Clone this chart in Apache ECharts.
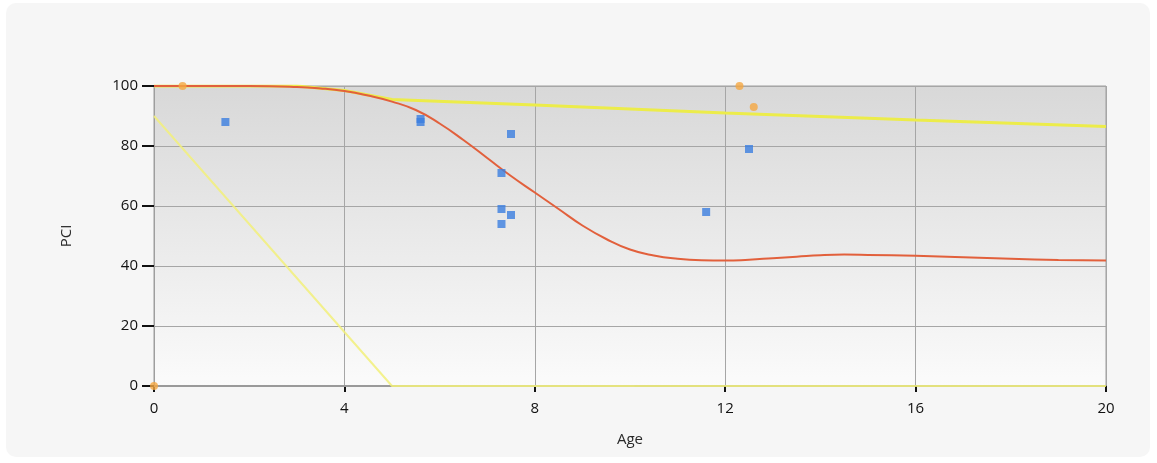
<!DOCTYPE html>
<html>
<head>
<meta charset="utf-8">
<script src="https://cdn.jsdelivr.net/npm/echarts@6/dist/echarts.min.js"></script>
<style>
  html, body { margin: 0; padding: 0; background: #ffffff; }
  #chart { width: 1157px; height: 463px; }
</style>
</head>
<body>
<div id="chart"></div>
<script>
// Observed condition points (Age, PCI)
const observedBlue = [
  [1.5, 88], [5.6, 89], [5.6, 88], [7.5, 84], [7.3, 71],
  [7.3, 59], [7.5, 57], [7.3, 54], [11.6, 58], [12.5, 79]
];
const observedOrange = [[0, 0], [0.6, 100], [12.3, 100], [12.6, 93]];

// Fitted deterioration curve
const curveAge = [0, 1, 2, 3, 3.5, 4, 4.5, 5, 5.5, 6, 6.5, 7, 7.5, 8, 8.5, 9, 9.5, 10,
  10.5, 11, 11.5, 12, 12.5, 13, 13.5, 14, 14.5, 15, 16, 17, 18, 19, 20];
const curvePci = [100, 100, 100, 99.7, 99.2, 98.3, 96.8, 94.8, 92, 87.5, 82, 76, 70,
  64.5, 59, 53.5, 49, 45.5, 43.5, 42.4, 41.9, 41.8, 42.1, 42.6, 43.1, 43.6, 43.8, 43.7,
  43.4, 42.9, 42.4, 42.0, 41.8];

// Upper bound line
const upperAge = [0, 3, 4, 5, 8, 12, 16, 20];
const upperPci = [100, 100, 98.5, 95.5, 93.7, 91, 88.7, 86.5];

// Lower bound line
const lowerAge = [0, 5, 20];
const lowerPci = [90, 0, 0];

// Baseline segment
const baseAge = [0, 10.1];
const basePci = [0, 0];

const xTicks = [0, 4, 8, 12, 16, 20];
const yTicks = [0, 20, 40, 60, 80, 100];

const zip = (a, b) => a.map((v, i) => [v, b[i]]);

const chart = echarts.init(document.getElementById('chart'));
const labelFont = { fontFamily: 'Open Sans', fontSize: 15, color: '#111111' };

chart.setOption({
  animation: false,
  backgroundColor: '#ffffff',
  graphic: [{
    type: 'rect',
    shape: { x: 6, y: 3, width: 1144, height: 454, r: 10 },
    style: { fill: '#f6f6f6' },
    z: -10
  }],
  grid: {
    left: 154, top: 86, width: 952, height: 300,
    show: true,
    borderColor: '#9e9e9e',
    borderWidth: 1,
    backgroundColor: {
      type: 'linear', x: 0, y: 0, x2: 0, y2: 1,
      colorStops: [
        { offset: 0, color: '#d8d8d8' },
        { offset: 1, color: '#fbfbfb' }
      ]
    }
  },
  xAxis: {
    type: 'value', min: xTicks[0], max: xTicks[xTicks.length - 1], interval: 4,
    name: 'Age', nameLocation: 'middle', nameGap: 46,
    nameTextStyle: { fontFamily: 'Open Sans', fontSize: 15, color: '#2a2a2a' },
    axisLine: { show: true, onZero: false, lineStyle: { color: '#8a8a8a', width: 2 } },
    axisTick: { show: true, length: 6, lineStyle: { color: '#111', width: 2 } },
    axisLabel: Object.assign({ margin: 15 }, labelFont),
    splitLine: { show: true, lineStyle: { color: '#a6a6a6' } }
  },
  yAxis: {
    type: 'value', min: yTicks[0], max: yTicks[yTicks.length - 1], interval: 20,
    name: 'PCI', nameLocation: 'middle', nameGap: 80,
    nameTextStyle: { fontFamily: 'Open Sans', fontSize: 15, color: '#2a2a2a' },
    axisLine: { show: true, onZero: false, lineStyle: { color: '#9e9e9e' } },
    axisTick: { show: true, length: 12, lineStyle: { color: '#111', width: 2 } },
    axisLabel: Object.assign({ margin: 16 }, labelFont),
    splitLine: { show: true, lineStyle: { color: '#a6a6a6' } }
  },
  series: [
    {
      type: 'line', data: zip(baseAge, basePci), symbol: 'none',
      lineStyle: { color: '#9a9a9a', width: 2 }, z: 2
    },
    {
      type: 'line', data: zip(lowerAge, lowerPci), symbol: 'none',
      lineStyle: { color: '#f2f07a', width: 2, opacity: 0.85 }, z: 3
    },
    {
      type: 'line', data: zip(upperAge, upperPci), symbol: 'none',
      lineStyle: { color: '#ecec4a', width: 3 }, z: 3
    },
    {
      type: 'line', data: zip(curveAge, curvePci), symbol: 'none',
      smooth: 0.5,
      lineStyle: { color: '#e2603c', width: 2 }, z: 4
    },
    {
      type: 'scatter', data: observedBlue, symbol: 'rect', symbolSize: 8,
      itemStyle: { color: '#3b7ee0' }, z: 5
    },
    {
      type: 'scatter', data: observedOrange, symbol: 'circle', symbolSize: 8,
      itemStyle: { color: '#f5a742' }, z: 5
    }
  ]
});
</script>
</body>
</html>
